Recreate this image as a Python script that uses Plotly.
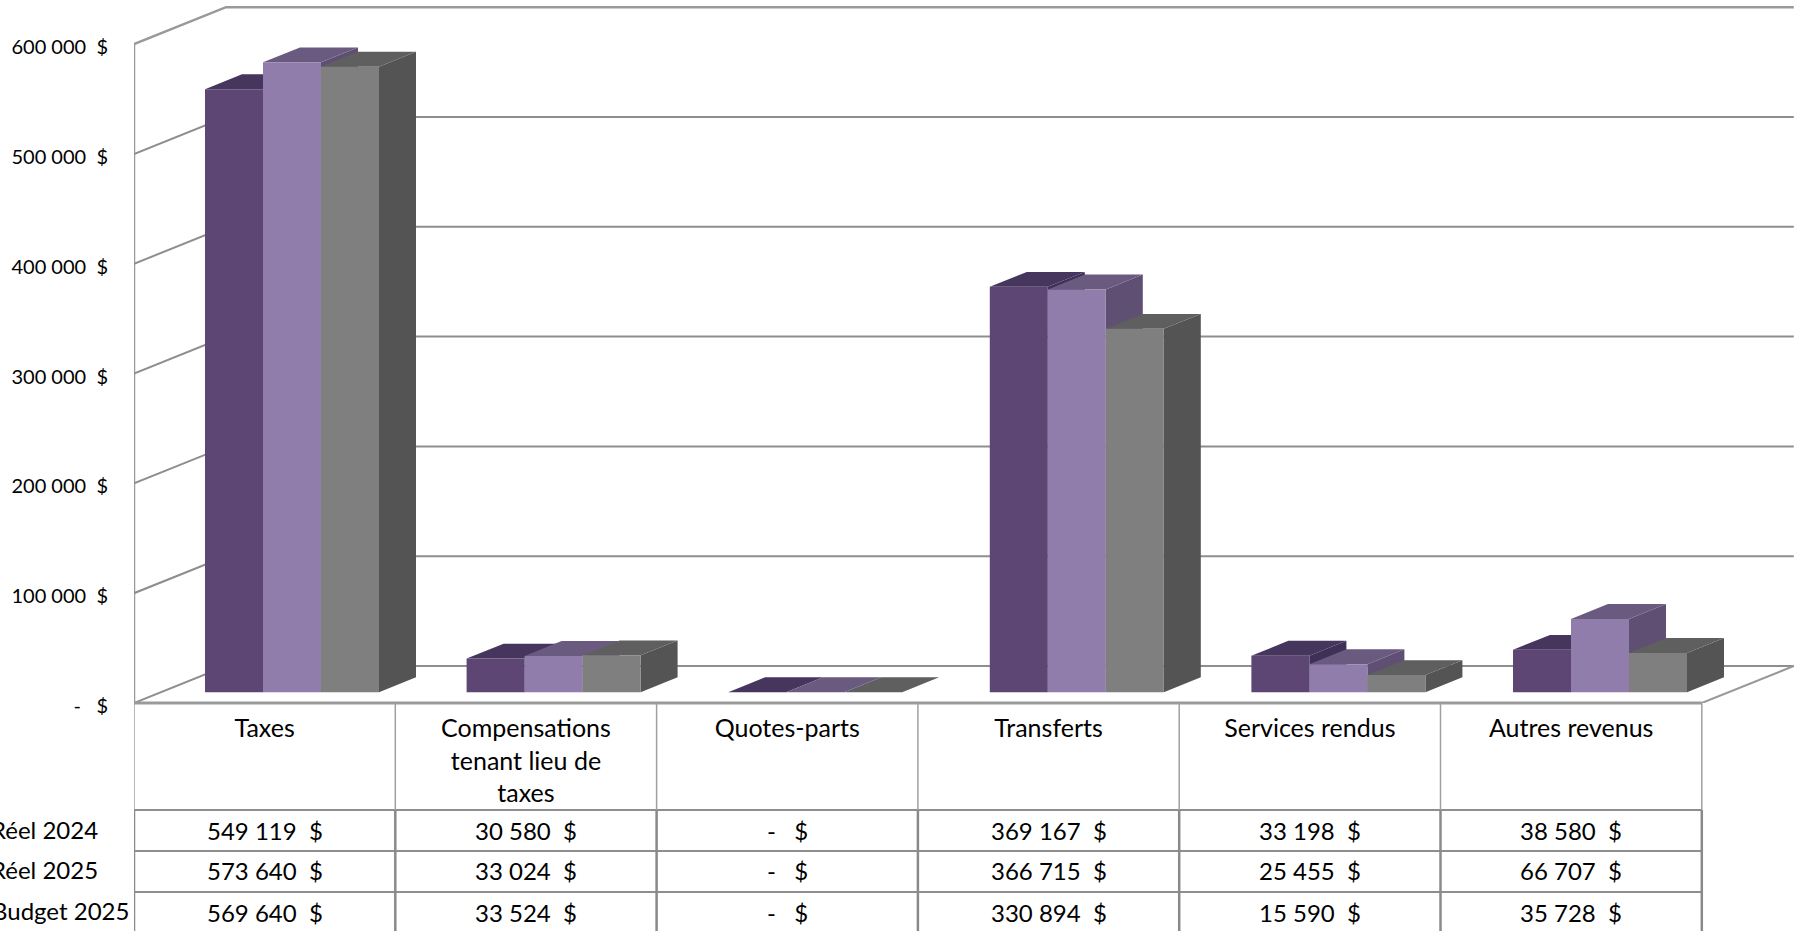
import plotly.graph_objects as go

categories = ["Taxes", "Compensations<br>tenant lieu de<br>taxes", "Quotes-parts", "Transferts", "Services rendus", "Autres revenus"]
series_names = ["Réel 2024", "Réel 2025", "Budget 2025"]
reel_2024 = [549119, 30580, 0, 369167, 33198, 38580]
reel_2025 = [573640, 33024, 0, 366715, 25455, 66707]
budget_2025 = [569640, 33524, 0, 330894, 15590, 35728]
y_ticks = [0, 100000, 200000, 300000, 400000, 500000, 600000]
y_tick_labels = ["-   $", "100 000  $", "200 000  $", "300 000  $", "400 000  $", "500 000  $", "600 000  $"]

W, H = 1810, 931
ML, MB = 134, 228
PX_U = 261.3            # pixels per category
PX_V = 0.001098         # pixels per dollar
DX, DY = 92 / PX_U, 37 / PX_V   # full depth of the floor, in axis units
BAR_W = 58.0 / PX_U
BAR_PAD = 44 / PX_U
BAR_STEP = 261.6 / PX_U
D0, D1 = 27 / 92, 64 / 92       # bar front and back, as fraction of floor depth
FONT = "Lato"
TXT = "#000000"

faces = [
    dict(front="#5d4673", top="#46365e", side="#3f3058"),
    dict(front="#907dab", top="#6b5a80", side="#5f5073"),
    dict(front="#7f7f7f", top="#5f5f5f", side="#545454"),
]
values = [reel_2024, reel_2025, budget_2025]


def proj(u, v, d):
    return u + d * DX, v + d * DY


def poly(points):
    xs, ys = [], []
    for u, v, d in points:
        x, y = proj(u, v, d)
        xs.append(x)
        ys.append(y)
    xs.append(xs[0])
    ys.append(ys[0])
    return xs, ys


def collect(polys):
    xs, ys = [], []
    for a, b in polys:
        xs += a + [None]
        ys += b + [None]
    return xs, ys


fig = go.Figure()


def line(points, width, color):
    xs, ys = zip(*[proj(*p) for p in points])
    fig.add_trace(go.Scatter(x=xs, y=ys, mode="lines", line=dict(color=color, width=width),
                             hoverinfo="skip", showlegend=False, cliponaxis=False))


n = len(categories)
# walls and floor
top = y_ticks[-1]
line([(0, 0, 0), (0, top, 0), (0, top, 1), (n, top, 1)], 2.5, "#999999")
for t in y_ticks[:-1]:
    line([(0, t, 0), (0, t, 1), (n, t, 1)], 2, "#8e8e8e")
line([(n, 0, 1), (n, 0, 0)], 2, "#999999")

# bars, painted series by series
for s, vals in enumerate(values):
    for face in ("side", "top", "front"):
        polys = []
        for i, v in enumerate(vals):
            a = i * BAR_STEP + BAR_PAD + s * BAR_W
            b = a + BAR_W
            if face == "front":
                polys.append(poly([(a, 0, D0), (b, 0, D0), (b, v, D0), (a, v, D0)]))
            elif face == "top":
                polys.append(poly([(a, v, D0), (b, v, D0), (b, v, D1), (a, v, D1)]))
            else:
                polys.append(poly([(b, 0, D0), (b, 0, D1), (b, v, D1), (b, v, D0)]))
        xs, ys = collect(polys)
        fig.add_trace(go.Scatter(x=xs, y=ys, mode="lines", fill="toself", fillcolor=faces[s][face],
                                 line=dict(width=0, color=faces[s][face]), name=series_names[s],
                                 hoverinfo="skip", showlegend=False, cliponaxis=False))


def py(px):
    return (H - MB - px) / (H - MB)


shapes = []
ROWS = [810, 851, 892]
# front floor edge + table frame
shapes.append(dict(type="line", xref="x", yref="paper", x0=0, x1=n, y0=py(703), y1=py(703),
                   line=dict(color="#9a9a9a", width=3)))
for r in ROWS:
    shapes.append(dict(type="line", xref="x", yref="paper", x0=0, x1=n, y0=py(r), y1=py(r),
                       line=dict(color="#8e8e8e", width=2)))
for i in range(n + 1):
    shapes.append(dict(type="line", xref="x", yref="paper", x0=i, x1=i, y0=py(703), y1=py(810),
                       line=dict(color="#a0a0a0", width=1.5)))
    shapes.append(dict(type="line", xref="x", yref="paper", x0=i, x1=i, y0=py(810), y1=py(H),
                       line=dict(color="#8a8a8a", width=2.5)))

annotations = []
ROW_Y = [829, 869.5, 911]
LABEL_RIGHT = [100, 100, 131]
for s, vals in enumerate(values):
    annotations.append(dict(xref="paper", yref="paper", x=(LABEL_RIGHT[s] - ML) / (W - ML), y=py(ROW_Y[s]),
                            xanchor="right", yanchor="middle", showarrow=False, text=series_names[s],
                            font=dict(family=FONT, size=24, color=TXT)))
    for i, v in enumerate(vals):
        label = f"{v:,}".replace(",", " ") + "  $" if v else "-   $"
        annotations.append(dict(xref="x", yref="paper", x=i + 0.5, y=py(ROW_Y[s] + 1), xanchor="center",
                                yanchor="middle", showarrow=False, text=label,
                                font=dict(family=FONT, size=24, color=TXT)))

fig.update_layout(
    width=W, height=H, autosize=False,
    margin=dict(l=ML, r=0, t=0, b=MB, pad=0),
    paper_bgcolor="white", plot_bgcolor="white",
    showlegend=False, shapes=shapes, annotations=annotations,
    xaxis=dict(range=[0, (W - ML) / PX_U], tickvals=[i + 0.5 for i in range(n)], ticktext=categories,
               showgrid=False, zeroline=False, showline=False, ticks="outside", ticklen=3,
               tickcolor="rgba(0,0,0,0)", tickangle=0,
               tickfont=dict(family=FONT, size=25, color=TXT)),
    yaxis=dict(range=[0, (H - MB) / PX_V], tickvals=y_ticks, ticktext=y_tick_labels,
               showgrid=False, zeroline=False, showline=False, ticks="outside", ticklen=21,
               tickcolor="rgba(0,0,0,0)", ticklabelshift=3,
               tickfont=dict(family=FONT, size=20, color=TXT)),
)

fig.write_html("out.html", config=dict(displayModeBar=False),
               post_script="document.body.style.margin='0';document.body.style.overflow='hidden';"
                           "var s=document.createElement('style');s.textContent='text{font-variant-ligatures:none}';"
                           "document.head.appendChild(s);")
